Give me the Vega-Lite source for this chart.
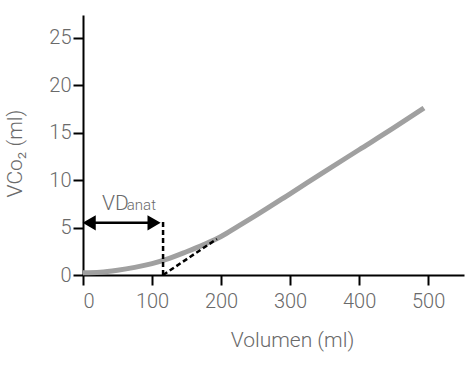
{
  "$schema": "https://vega.github.io/schema/vega-lite/v6.json",
  "width": 381,
  "height": 260,
  "autosize": "none",
  "padding": {"left": 83, "top": 15, "right": 1, "bottom": 91},
  "config": {
    "view": {"stroke": null},
    "font": "Roboto",
    "axis": {
      "grid": false,
      "domainColor": "#000000",
      "domainWidth": 2,
      "tickColor": "#000000",
      "tickWidth": 2,
      "tickSize": 10,
      "labelFont": "Roboto",
      "labelFontWeight": 300,
      "labelFontSize": 20,
      "labelColor": "#6a6a6a",
      "titleFont": "Roboto",
      "titleFontWeight": 300,
      "titleFontSize": 21,
      "titleColor": "#6a6a6a"
    }
  },
  "datasets": {
    "curve": [
      {"vol": 0, "vco2": 0.25},
      {"vol": 25, "vco2": 0.3},
      {"vol": 50, "vco2": 0.5},
      {"vol": 75, "vco2": 0.8},
      {"vol": 100, "vco2": 1.2},
      {"vol": 125, "vco2": 1.75},
      {"vol": 150, "vco2": 2.45},
      {"vol": 175, "vco2": 3.2},
      {"vol": 200, "vco2": 4.05},
      {"vol": 225, "vco2": 5.15},
      {"vol": 250, "vco2": 6.25},
      {"vol": 300, "vco2": 8.56},
      {"vol": 350, "vco2": 10.9},
      {"vol": 400, "vco2": 13.2},
      {"vol": 450, "vco2": 15.5},
      {"vol": 494, "vco2": 17.6}
    ],
    "dashed": [
      {"x": 116, "y": 0, "x2": 116, "y2": 5.6},
      {"x": 116, "y": 0, "x2": 194, "y2": 3.8}
    ],
    "arrow": [
      {"x": 10, "x2": 102, "y": 5.5}
    ],
    "heads": [
      {"x": 9, "y": 5.5, "shape": "triangle-left"},
      {"x": 103, "y": 5.5, "shape": "triangle-right"}
    ],
    "labels": [
      {"x": 27.5, "y": 6.85, "text": "VD", "size": "big"},
      {"x": 63.5, "y": 6.85, "text": "anat", "size": "small"}
    ]
  },
  "layer": [
    {
      "data": {"name": "curve"},
      "mark": {"type": "line", "color": "#a0a0a0", "strokeWidth": 5, "interpolate": "monotone", "strokeCap": "butt"},
      "encoding": {
        "x": {
          "field": "vol", "type": "quantitative",
          "scale": {"domain": [0, 552], "nice": false, "zero": false},
          "axis": {"values": [0, 100, 200, 300, 400, 500], "labelPadding": 6, "title": "Volumen (ml)", "titleX": 209, "titleY": 65, "titleBaseline": "middle"}
        },
        "y": {
          "field": "vco2", "type": "quantitative",
          "scale": {"domain": [0, 27.4], "nice": false, "zero": false},
          "axis": {"values": [0, 5, 10, 15, 20, 25], "labelPadding": 2, "title": "VCo₂ (ml)", "titleX": -68, "titleY": 138, "titleBaseline": "middle", "titleAngle": -90, "titleAlign": "center"}
        }
      }
    },
    {
      "data": {"name": "dashed"},
      "mark": {"type": "rule", "color": "#000000", "strokeWidth": 2.5, "strokeDash": [5, 3]},
      "encoding": {
        "x": {"field": "x", "type": "quantitative"},
        "x2": {"field": "x2"},
        "y": {"field": "y", "type": "quantitative"},
        "y2": {"field": "y2"}
      }
    },
    {
      "data": {"name": "arrow"},
      "mark": {"type": "rule", "color": "#000000", "strokeWidth": 2.5},
      "encoding": {
        "x": {"field": "x", "type": "quantitative"},
        "x2": {"field": "x2"},
        "y": {"field": "y", "type": "quantitative"}
      }
    },
    {
      "data": {"name": "heads"},
      "mark": {"type": "point", "filled": true, "color": "#000000", "opacity": 1, "size": 230},
      "encoding": {
        "x": {"field": "x", "type": "quantitative"},
        "y": {"field": "y", "type": "quantitative"},
        "shape": {"field": "shape", "type": "nominal", "scale": null, "legend": null}
      }
    },
    {
      "data": {"name": "labels"},
      "mark": {"type": "text", "align": "left", "baseline": "alphabetic", "font": "Roboto", "fontWeight": 300, "color": "#6a6a6a"},
      "encoding": {
        "x": {"field": "x", "type": "quantitative"},
        "y": {"field": "y", "type": "quantitative"},
        "text": {"field": "text"},
        "size": {"field": "size", "type": "nominal", "scale": {"domain": ["big", "small"], "range": [21, 15]}, "legend": null}
      }
    }
  ]
}
